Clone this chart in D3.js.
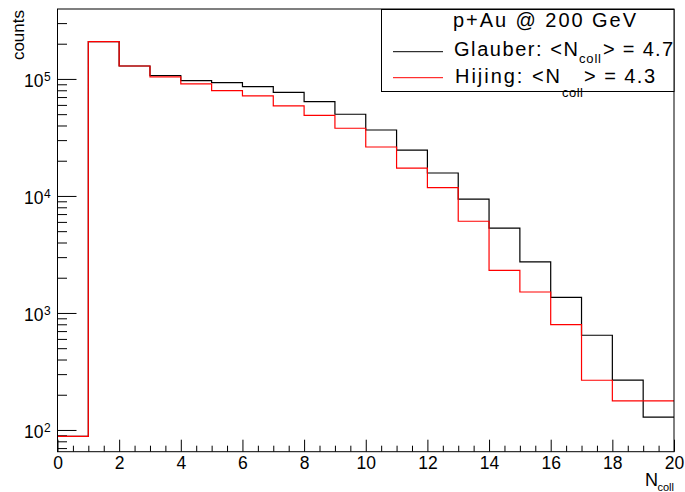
<!DOCTYPE html>
<html>
<head>
<meta charset="utf-8">
<script src="https://cdn.jsdelivr.net/npm/d3@7"></script>
<style>
  body { margin: 0; background: #fff; }
  svg { display: block; font-family: "Liberation Sans", Arial, Helvetica, sans-serif; }
</style>
</head>
<body>
<div id="chart"></div>
<script>
// bin lower edges (N_coll), one bin per unit from 0 to 20
const binEdges = d3.range(0, 21);
// counts
const glauber = [88, 208000, 129000, 107000, 96600, 92900, 85900, 76900, 64000, 49900,
                 36600, 24600, 15700, 9380, 5300, 2730, 1360, 645, 267, 129];
const hijing  = [88, 208000, 129000, 104000, 90600, 79400, 71600, 58800, 48800, 37900,
                 26200, 17300, 11800, 6080, 2310, 1510, 794, 266, 177, 177];
const xTicks = [0, 2, 4, 6, 8, 10, 12, 14, 16, 18, 20];
const yDecades = [2, 3, 4, 5];

const W = 685, H = 492;
const pLeft = 57.5, pRight = 674, pTop = 9, pBottom = 451.7;

const svg = d3.select("#chart").append("svg")
    .attr("width", W).attr("height", H);

const x = d3.scaleLinear().domain([0, 20]).range([pLeft, pRight]);
const y = d3.scaleLog().domain([65.2, 396000]).range([pBottom, pTop]);

// x axis ticks (inward)
const xMinor = d3.range(0, 20.01, 0.5).filter(v => v % 2 !== 0);
svg.append("g")
    .attr("transform", `translate(0,${pBottom})`)
    .call(d3.axisBottom(x).tickValues(xMinor).tickSize(-6).tickSizeOuter(0).tickFormat(""))
    .call(g => g.select(".domain").remove());
svg.append("g")
    .attr("transform", `translate(0,${pBottom})`)
    .call(d3.axisBottom(x).tickValues(xTicks).tickSize(-12).tickSizeOuter(0).tickPadding(5).tickFormat(d3.format("d")))
    .call(g => g.select(".domain").remove())
    .selectAll("text")
    .style("font-size", "17.5px")
    .attr("fill", "#000");

// y axis ticks (inward)
const yMinor = [];
[10, 100, 1000, 10000, 100000].forEach(dec => {
    for (let k = 2; k <= 9; k++) {
        const v = dec * k;
        if (v >= 65.2 && v <= 396000 && ![100, 1000, 10000, 100000].includes(v)) yMinor.push(v);
    }
});
svg.append("g")
    .attr("transform", `translate(${pLeft},0)`)
    .call(d3.axisLeft(y).tickValues(yMinor).tickSize(-9.5).tickSizeOuter(0).tickFormat(""))
    .call(g => g.select(".domain").remove());
svg.append("g")
    .attr("transform", `translate(${pLeft},0)`)
    .call(d3.axisLeft(y).tickValues(yDecades.map(k => Math.pow(10, k))).tickSize(-19).tickSizeOuter(0).tickFormat(""))
    .call(g => g.select(".domain").remove());

// y tick labels 10^k
const yl = svg.append("g").selectAll("g")
    .data(yDecades).enter().append("g");
yl.append("text")
    .attr("x", 43.5)
    .attr("y", d => y(Math.pow(10, d)) + 8.3)
    .attr("text-anchor", "end")
    .style("font-size", "17.5px")
    .text("10");
yl.append("text")
    .attr("x", 44)
    .attr("y", d => y(Math.pow(10, d)) + 1.7)
    .style("font-size", "12px")
    .text(d => d);

// histograms
const line = d3.line()
    .x(d => x(d.x))
    .y(d => y(d.v))
    .curve(d3.curveStepAfter);
const toPts = arr => arr.map((v, i) => ({ x: binEdges[i], v: v }))
    .concat([{ x: 20, v: arr[arr.length - 1] }]);

svg.append("path")
    .datum(toPts(glauber))
    .attr("d", line)
    .attr("fill", "none")
    .attr("stroke", "#000")
    .attr("stroke-width", 1.2);
svg.append("path")
    .datum(toPts(hijing))
    .attr("d", line)
    .attr("fill", "none")
    .attr("stroke", "#ff0000")
    .attr("stroke-width", 1.2);

// frame
svg.append("rect")
    .attr("x", pLeft).attr("y", pTop)
    .attr("width", pRight - pLeft).attr("height", pBottom - pTop)
    .attr("fill", "none").attr("stroke", "#000").attr("stroke-width", 1);

// axis titles
svg.append("text")
    .attr("transform", "translate(24,10) rotate(-90)")
    .attr("text-anchor", "end")
    .style("font-size", "17px")
    .text("counts");
svg.append("text")
    .attr("x", 645).attr("y", 485.7)
    .style("font-size", "18px")
    .text("N");
svg.append("text")
    .attr("x", 657.5).attr("y", 490.7)
    .style("font-size", "11px")
    .text("coll");

// legend
const leg = svg.append("g");
leg.append("rect")
    .attr("x", 381.5).attr("y", 9.5)
    .attr("width", 292.5).attr("height", 82)
    .attr("fill", "#fff").attr("stroke", "#000").attr("stroke-width", 1);
leg.append("line")
    .attr("x1", 393).attr("x2", 443).attr("y1", 51.7).attr("y2", 51.7)
    .attr("stroke", "#000").attr("stroke-width", 1);
leg.append("line")
    .attr("x1", 393).attr("x2", 443).attr("y1", 77.7).attr("y2", 77.7)
    .attr("stroke", "#ff0000").attr("stroke-width", 1);

const legText = (tx, ty, size, len, str) => leg.append("text")
    .attr("x", tx).attr("y", ty)
    .attr("textLength", len).attr("lengthAdjust", "spacing")
    .style("font-size", size + "px")
    .text(str);

legText(453, 26.7, 20, 183, "p+Au @ 200 GeV");
legText(454, 55.7, 20, 124, "Glauber: <N");
legText(579, 63.3, 13, 22, "coll");
legText(603, 55.7, 20, 70, "> = 4.7");
legText(455, 83.3, 20, 105, "Hijing:  <N");
legText(562, 96.7, 13, 21, "coll");
legText(584, 83.3, 20, 71, "> = 4.3");
</script>
</body>
</html>
